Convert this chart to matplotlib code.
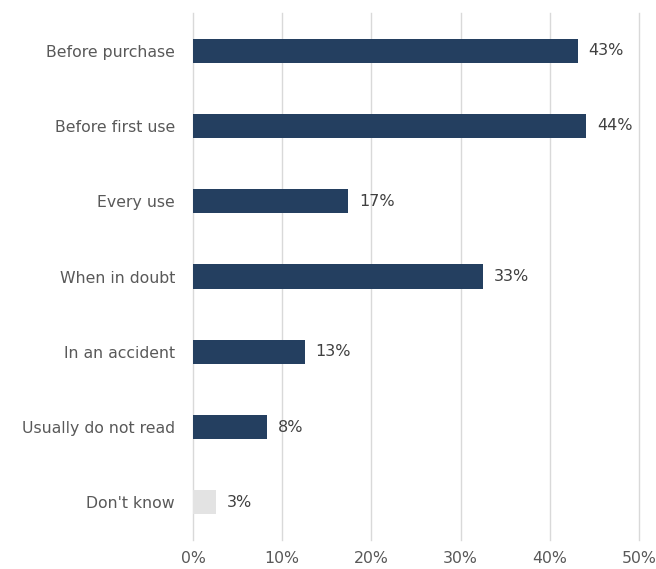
import matplotlib
matplotlib.use("Agg")
import matplotlib.pyplot as plt

plt.rcParams["font.family"] = ["DejaVu Sans"]

# Survey answers, top to bottom
categories = ["Before purchase", "Before first use", "Every use", "When in doubt",
              "In an accident", "Usually do not read", "Don't know"]
values = [43.1, 44.1, 17.4, 32.5, 12.5, 8.3, 2.6]
labels = ["43%", "44%", "17%", "33%", "13%", "8%", "3%"]
bar_colors = ["#243F60"] * 6 + ["#E3E3E3"]
x_ticks = [0, 10, 20, 30, 40, 50]

fig = plt.figure(figsize=(6.56, 5.69), dpi=100)
ax = fig.add_axes([0.2942, 0.051, 0.680, 0.926])

pos = list(range(len(categories)))
bars = ax.barh(pos, values, height=0.32, color=bar_colors, zorder=3)
ax.bar_label(bars, labels=labels, padding=8, fontsize=11.5, color="#404040")

ax.set_ylim(len(categories) - 0.5, -0.5)
ax.set_xlim(0, 50)
ax.set_yticks(pos)
ax.set_yticklabels(categories, fontsize=11.3, color="#595959")
ax.set_xticks(x_ticks)
ax.set_xticklabels([f"{t}%" for t in x_ticks], fontsize=11.3, color="#595959")
ax.tick_params(axis="both", length=0)
ax.tick_params(axis="x", pad=8)
ax.tick_params(axis="y", pad=13)

ax.grid(axis="x", color="#D9D9D9", linewidth=1.0, zorder=0)
# keep the edge gridlines (0% and 50%) at full width
for line in ax.get_xgridlines():
    line.set_clip_on(False)
for s in ax.spines.values():
    s.set_visible(False)

fig.savefig("out.png", dpi=100)
